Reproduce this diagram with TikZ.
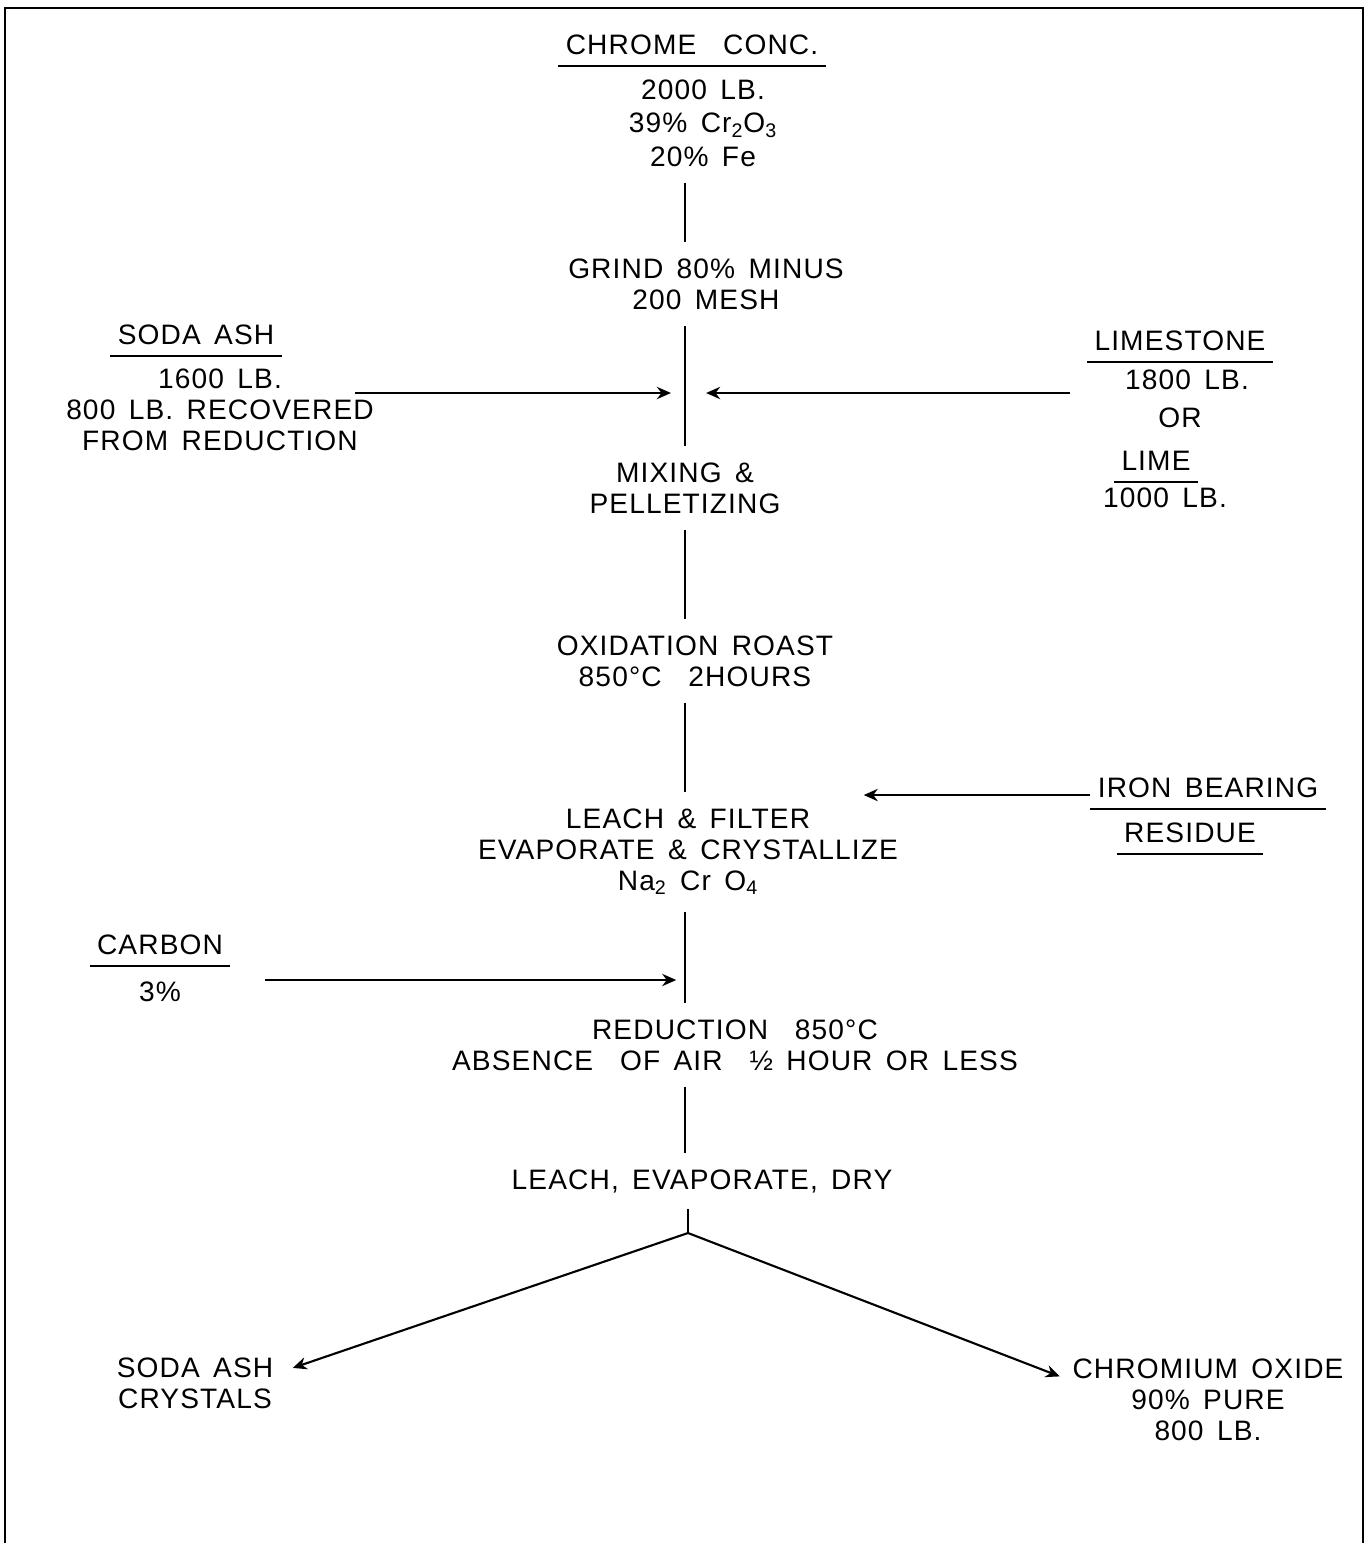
\documentclass[tikz,border=0pt]{standalone}
\usepackage{fontspec}
\setmainfont{Liberation Sans}[LetterSpace=4, WordSpace=1.5]
\usetikzlibrary{positioning, arrows.meta}

\begin{document}
\begin{tikzpicture}[
    x=0.02cm, y=-0.02cm,
    every node/.style={
        font=\fontsize{16}{17.5}\selectfont
    },
    head/.style={
        inner xsep=4pt,
        inner ysep=6pt
    },
    stage/.style={
        align=center
    },
    rule/.style={
        line width=1.2pt
    },
    flow/.style={
        line width=1.2pt,
        shorten <=6pt,
        shorten >=6pt
    },
    arrow/.style={
        ->,
        >={Stealth[length=8pt, width=7pt]},
        line width=1.2pt
    }
]
    \useasboundingbox (0,0) rectangle (1370,1545);

    % Frame
    \draw[rule] (5,1543) -- (5,8) -- (1363,8) -- (1363,1543);

    % Main line
    \coordinate (spine) at (685,0);
    \coordinate (mixin) at (685,393);
    \coordinate (reducein) at (685,980);
    \coordinate (fork) at (688,1233);

    % Feed
    \node[head] (chrome) at (692,45) {CHROME\ \ CONC.};
    \node[stage, font=\fontsize{16}{19}\selectfont] (chromedata) at (703,123)
        {2000 LB.\\39\% Cr\textsubscript{2}O\textsubscript{3}\\20\% Fe};
    \draw[rule] (chrome.south west) -- (chrome.south east);

    % Process stages
    \node[stage] (grind) at (706,284) {GRIND 80\% MINUS\\200 MESH};
    \node[stage] (mixing) at (685,488) {MIXING \&\\PELLETIZING};
    \node[stage] (roast) at (695,661) {OXIDATION ROAST\\850°C\ \ 2HOURS};
    \node[stage] (leach) at (688,852)
        {LEACH \& FILTER\\EVAPORATE \& CRYSTALLIZE\\Na\textsubscript{2} Cr O\textsubscript{4}};
    \node[stage] (reduce) at (735,1045)
        {REDUCTION\ \ 850°C\\ABSENCE\ \ OF AIR\ \ ½ HOUR OR LESS};
    \node[stage] (dry) at (702,1181) {LEACH, EVAPORATE, DRY};

    % Additions
    \node[head] (soda) at (196,335) {SODA ASH};
    \node[stage] (sodadata) at (220,410) {1600 LB.\\800 LB. RECOVERED\\FROM REDUCTION};
    \draw[rule] (soda.south west) -- (soda.south east);

    \node[head] (limestone) at (1180,341) {LIMESTONE};
    \node (lsqty) at (1187,380) {1800 LB.};
    \node (orword) at (1180,418) {OR};
    \node[head] (lime) at (1156,461) {LIME};
    \node (limeqty) at (1165,498) {1000 LB.};
    \draw[rule] (limestone.south west) -- (limestone.south east);
    \draw[rule] (lime.south west) -- (lime.south east);

    \node[head] (iron) at (1208,788) {IRON BEARING};
    \node[head] (residue) at (1190,833) {RESIDUE};
    \draw[rule] (iron.south west) -- (iron.south east);
    \draw[rule] (residue.south west) -- (residue.south east);

    \node[head] (carbon) at (160,945) {CARBON};
    \node (carbonqty) at (160,992) {3\%};
    \draw[rule] (carbon.south west) -- (carbon.south east);

    % Products
    \node[stage] (crystals) at (195,1383) {SODA ASH\\CRYSTALS};
    \node[stage] (oxide) at (1208,1400) {CHROMIUM OXIDE\\90\% PURE\\800 LB.};

    % Connecting lines
    \draw[flow] (chromedata.south -| spine) -- (grind.north -| spine);
    \draw[flow] (grind.south -| spine) -- (mixing.north -| spine);
    \draw[flow] (mixing.south -| spine) -- (roast.north -| spine);
    \draw[flow] (roast.south -| spine) -- (leach.north -| spine);
    \draw[flow] (leach.south -| spine) -- (reduce.north -| spine);
    \draw[flow] (reduce.south -| spine) -- (dry.north -| spine);
    \draw[flow, shorten >=0pt] (dry.south -| fork) -- (fork);

    % Arrows in
    \draw[arrow, shorten <=-14pt, shorten >=8pt] (sodadata.east |- mixin) -- (mixin);
    \draw[arrow, shorten <=10pt, shorten >=12pt] (limestone.west |- mixin) -- (mixin);
    \draw[arrow, shorten >=-23pt] ([yshift=-4pt]iron.west) -- ([yshift=-4pt]iron.west -| leach.east);
    \draw[arrow, shorten <=20pt, shorten >=5pt] (carbon.east |- reducein) -- (reducein);

    % Arrows out
    \draw[arrow, shorten >=8pt] (fork) -- ([yshift=6pt]crystals.east);
    \draw[arrow, shorten >=4pt] (fork) -- ([yshift=12pt]oxide.west);
\end{tikzpicture}
\end{document}
